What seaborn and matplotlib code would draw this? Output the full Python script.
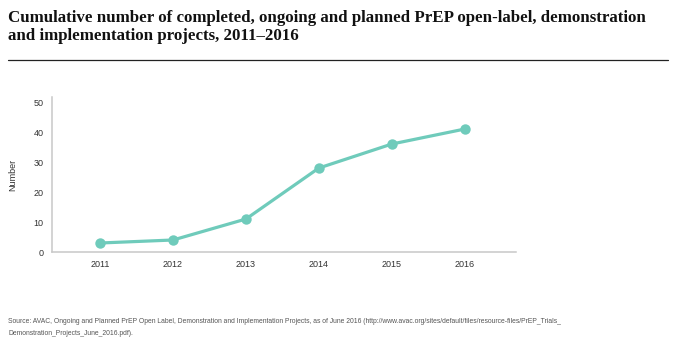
import pandas as pd
import matplotlib.pyplot as plt
import seaborn as sns

years = [2011, 2012, 2013, 2014, 2015, 2016]
projects = [3, 4, 11, 28, 36, 41]
y_ticks = [0, 10, 20, 30, 40, 50]

title = ('Cumulative number of completed, ongoing and planned PrEP open-label, demonstration\n'
         'and implementation projects, 2011\u20132016')
source = ('Source: AVAC, Ongoing and Planned PrEP Open Label, Demonstration and Implementation Projects, '
          'as of June 2016 (http://www.avac.org/sites/default/files/resource-files/PrEP_Trials_\n'
          'Demonstration_Projects_June_2016.pdf).')

df = pd.DataFrame({'year': years, 'number': projects})

sns.set_style('white')
plt.rcParams['font.family'] = ['Liberation Sans', 'DejaVu Sans']

fig = plt.figure(figsize=(6.77, 3.5), dpi=100)
ax = fig.add_axes([0.0768, 0.28, 0.685, 0.443])

teal = '#6fcbbb'
sns.lineplot(data=df, x='year', y='number', ax=ax, color=teal, linewidth=2.3,
             marker='o', markersize=7.5, markeredgewidth=0, markerfacecolor=teal)

ax.set_xlim(2010.34, 2016.7)
ax.set_ylim(0, 51.7)
ax.set_xticks(years)
ax.set_yticks(y_ticks)
ax.tick_params(axis='both', length=0, labelsize=6.5, colors='#333333', pad=6)
ax.set_xlabel('')
ax.set_ylabel('Number', fontsize=6.5, color='#333333', labelpad=12)
for side in ['top', 'right']:
    ax.spines[side].set_visible(False)
for side in ['left', 'bottom']:
    ax.spines[side].set_color('#c8c8c8')
    ax.spines[side].set_linewidth(1.1)

fig.text(0.012, 0.972, title, ha='left', va='top', fontsize=12.2, fontweight='bold',
         family=['Liberation Serif', 'DejaVu Serif'], linespacing=1.15, color='#111111')
fig.add_artist(plt.Line2D([0.012, 0.986], [0.828, 0.828], color='#222222', linewidth=0.9))
fig.text(0.012, 0.064, source, ha='left', va='center', fontsize=4.87, color='#555555',
         linespacing=1.9)

fig.savefig('out.png', dpi=100)
